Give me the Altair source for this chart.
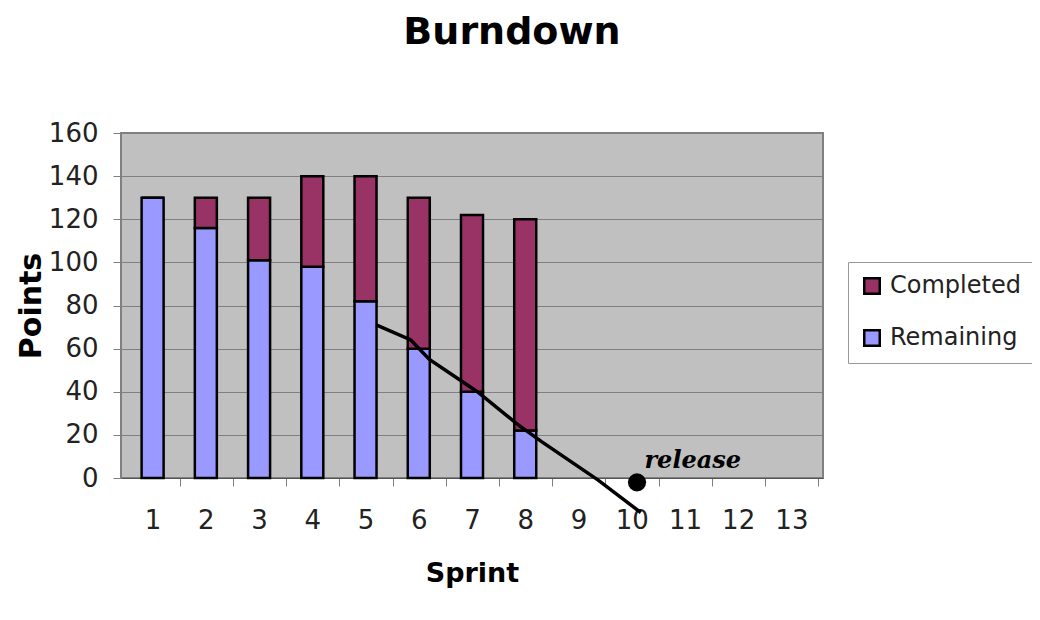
import altair as alt
import pandas as pd

sprints = [1, 2, 3, 4, 5, 6, 7, 8]
totals = [130, 130, 130, 140, 140, 130, 122, 120]
remaining = [130, 116, 101, 98, 82, 60, 40, 22]

trend_x = [5.2, 5.85, 6.2, 7.1, 7.85, 8.3, 9.37, 10.17]
trend_y = [71, 64, 55, 40, 25, 17, -1, -16]

release_x = [10.1]
release_y = [-2]
release_label = ["release"]

series_names = ["Completed", "Remaining"]
series_colors = ["#993366", "#9999ff"]

rows = []
for s, t, r in zip(sprints, totals, remaining):
    rows.append({"Sprint": s, "Series": "Remaining", "lo": 0, "hi": r})
    rows.append({"Sprint": s, "Series": "Completed", "lo": r, "hi": t})
bars_df = pd.DataFrame(rows)
trend_df = pd.DataFrame({"x": trend_x, "y": trend_y})
rel_df = pd.DataFrame({"x": release_x, "y": release_y, "label": release_label})
txt_df = pd.DataFrame({"x": [10.24], "y": [4.6], "label": release_label})

FONT = "DejaVu Sans"
xscale = alt.Scale(domain=[0.5, 13.5], nice=False, zero=False)
yscale = alt.Scale(domain=[0, 160], nice=False)

bars = alt.Chart(bars_df).mark_bar(size=22, stroke="black", strokeWidth=2.5).encode(
    x=alt.X("Sprint:Q", scale=xscale,
            axis=alt.Axis(values=list(range(0, 14)), tickOffset=27, labelOffset=-27,
                          labelExpr="datum.value == 0 ? '' : datum.label",
                          title="Sprint", grid=False, tickSize=8, tickColor="#808080",
                          domainColor="#555555", labelFontSize=26, labelFont=FONT,
                          labelColor="#222222", labelPadding=21,
                          titleFontSize=27, titleFont=FONT, titleFontWeight="bold",
                          titlePadding=27, labelFlush=False)),
    y=alt.Y("lo:Q", scale=yscale,
            axis=alt.Axis(values=list(range(0, 161, 20)), title="Points",
                          grid=True, gridColor="#808080", gridWidth=1,
                          tickSize=8, tickColor="#808080", domainColor="#808080",
                          labelFontSize=26, labelFont=FONT, labelColor="#222222",
                          labelPadding=15, titleFontSize=30, titleFont=FONT,
                          titleFontWeight="bold", titlePadding=2)),
    y2="hi:Q",
    color=alt.Color("Series:N",
                    scale=alt.Scale(domain=series_names, range=series_colors),
                    legend=alt.Legend(title=None, orient="none", legendX=727, legendY=129,
                                      symbolType="square", symbolSize=240,
                                      symbolStrokeColor="black", symbolStrokeWidth=2.5,
                                      labelFontSize=24, labelFont=FONT, labelColor="#222222",
                                      rowPadding=26, padding=12, strokeColor="#999999",
                                      fillColor="white", labelOffset=6,
                                      labelLimit=300)),
)

trend = alt.Chart(trend_df).mark_line(color="black", strokeWidth=3.5).encode(
    x=alt.X("x:Q", scale=xscale), y=alt.Y("y:Q", scale=yscale)
)

dot = alt.Chart(rel_df).mark_circle(color="black", opacity=1, size=330).encode(
    x=alt.X("x:Q", scale=xscale), y=alt.Y("y:Q", scale=yscale)
)

label = alt.Chart(txt_df).mark_text(
    font="DejaVu Serif", fontStyle="italic", fontWeight="bold", fontSize=24,
    align="left", baseline="alphabetic", color="black"
).encode(x=alt.X("x:Q", scale=xscale), y=alt.Y("y:Q", scale=yscale), text="label:N")

chart = alt.layer(bars, trend, dot, label).properties(
    width=702, height=345,
    title=alt.Title("Burndown", fontSize=38, font=FONT, fontWeight="bold",
                    anchor="middle", frame="group", dx=40, offset=68, color="black"),
    autosize=alt.AutoSizeParams(type="none"),
    padding={"left": 113, "top": 125, "right": 209, "bottom": 134},
).configure_view(fill="#c0c0c0", stroke="#808080", strokeWidth=2)

chart.save("out.html", embed_options={"renderer": "svg", "actions": False})
